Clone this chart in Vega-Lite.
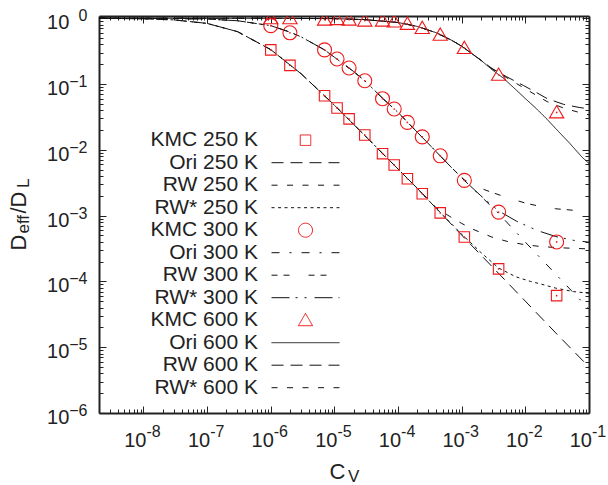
{
"$schema":"https://vega.github.io/schema/vega-lite/v6.json",
"width":490,"height":397,
"autosize":{"type":"none"},
"padding":{"left":99,"top":16,"right":19,"bottom":72},
"background":"white",
"config":{"view":{"stroke":null},"font":"Liberation Sans",
"axis":{"labelFont":"Liberation Sans","labelFontSize":20,"labelColor":"#222","titleFont":"Liberation Sans","titleFontSize":22,"titleFontWeight":"normal","titleColor":"#222","domainColor":"#222","domainWidth":2,"tickColor":"#222","tickWidth":1,"grid":false,"labelOverlap":false,"labelFlush":false,"titleAlign":"left","titleBaseline":"alphabetic"}},
"datasets":{
"kmc":[
{"series":"KMC 250 K","x":1e-6,"y":0.33},{"series":"KMC 250 K","x":2e-6,"y":0.192},{"series":"KMC 250 K","x":7e-6,"y":0.0664},{"series":"KMC 250 K","x":1.1e-5,"y":0.0432},{"series":"KMC 250 K","x":1.7e-5,"y":0.0295},{"series":"KMC 250 K","x":3e-5,"y":0.0168},{"series":"KMC 250 K","x":5.7e-5,"y":0.00873},{"series":"KMC 250 K","x":8.7e-5,"y":0.00588},{"series":"KMC 250 K","x":1.4e-4,"y":0.00363},{"series":"KMC 250 K","x":2.4e-4,"y":0.00215},{"series":"KMC 250 K","x":4.6e-4,"y":0.0011},{"series":"KMC 250 K","x":1.1e-3,"y":0.000473},{"series":"KMC 250 K","x":3.8e-3,"y":0.000155},{"series":"KMC 250 K","x":3.1e-2,"y":6.07e-5},
{"series":"KMC 300 K","x":1e-6,"y":0.77},{"series":"KMC 300 K","x":2e-6,"y":0.6},{"series":"KMC 300 K","x":7e-6,"y":0.33},{"series":"KMC 300 K","x":1.1e-5,"y":0.24},{"series":"KMC 300 K","x":1.7e-5,"y":0.175},{"series":"KMC 300 K","x":3e-5,"y":0.112},{"series":"KMC 300 K","x":5.7e-5,"y":0.0598},{"series":"KMC 300 K","x":8.7e-5,"y":0.0417},{"series":"KMC 300 K","x":1.4e-4,"y":0.0261},{"series":"KMC 300 K","x":2.4e-4,"y":0.0157},{"series":"KMC 300 K","x":4.6e-4,"y":0.0081},{"series":"KMC 300 K","x":1.1e-3,"y":0.00343},{"series":"KMC 300 K","x":3.8e-3,"y":0.00113},{"series":"KMC 300 K","x":3.1e-2,"y":0.000398},
{"series":"KMC 600 K","x":1e-6,"y":1.0},{"series":"KMC 600 K","x":2e-6,"y":1.0},{"series":"KMC 600 K","x":7e-6,"y":0.95},{"series":"KMC 600 K","x":1.1e-5,"y":0.97},{"series":"KMC 600 K","x":1.7e-5,"y":0.95},{"series":"KMC 600 K","x":3e-5,"y":0.92},{"series":"KMC 600 K","x":5.7e-5,"y":0.92},{"series":"KMC 600 K","x":8.7e-5,"y":0.89},{"series":"KMC 600 K","x":1.4e-4,"y":0.82},{"series":"KMC 600 K","x":2.4e-4,"y":0.71},{"series":"KMC 600 K","x":4.6e-4,"y":0.56},{"series":"KMC 600 K","x":1.1e-3,"y":0.352},{"series":"KMC 600 K","x":3.8e-3,"y":0.138},{"series":"KMC 600 K","x":3.1e-2,"y":0.037}
],
"curves":[
{"series":"Ori 250 K","x":2e-9,"y":0.996},{"series":"Ori 250 K","x":1e-8,"y":0.98},{"series":"Ori 250 K","x":3e-8,"y":0.943},{"series":"Ori 250 K","x":1e-7,"y":0.833},{"series":"Ori 250 K","x":3e-7,"y":0.625},{"series":"Ori 250 K","x":1e-6,"y":0.333},{"series":"Ori 250 K","x":2e-6,"y":0.195},{"series":"Ori 250 K","x":3e-6,"y":0.143},{"series":"Ori 250 K","x":7e-6,"y":0.066},{"series":"Ori 250 K","x":1e-5,"y":0.0476},{"series":"Ori 250 K","x":3e-5,"y":0.0165},{"series":"Ori 250 K","x":1e-4,"y":0.0051},{"series":"Ori 250 K","x":2e-4,"y":0.0026},{"series":"Ori 250 K","x":4e-4,"y":0.00128},{"series":"Ori 250 K","x":1e-3,"y":0.000505},{"series":"Ori 250 K","x":3e-3,"y":0.000168},{"series":"Ori 250 K","x":1e-2,"y":5.0e-5},{"series":"Ori 250 K","x":3e-2,"y":1.65e-5},{"series":"Ori 250 K","x":1e-1,"y":5.0e-6},
{"series":"RW 250 K","x":2e-9,"y":0.996},{"series":"RW 250 K","x":1e-8,"y":0.98},{"series":"RW 250 K","x":3e-8,"y":0.943},{"series":"RW 250 K","x":1e-7,"y":0.833},{"series":"RW 250 K","x":3e-7,"y":0.625},{"series":"RW 250 K","x":1e-6,"y":0.333},{"series":"RW 250 K","x":2e-6,"y":0.195},{"series":"RW 250 K","x":3e-6,"y":0.143},{"series":"RW 250 K","x":7e-6,"y":0.066},{"series":"RW 250 K","x":1e-5,"y":0.0476},{"series":"RW 250 K","x":3e-5,"y":0.0165},{"series":"RW 250 K","x":1e-4,"y":0.0051},{"series":"RW 250 K","x":2e-4,"y":0.0026},{"series":"RW 250 K","x":4e-4,"y":0.00131},{"series":"RW 250 K","x":6.5e-4,"y":0.00097},{"series":"RW 250 K","x":1e-3,"y":0.00076},{"series":"RW 250 K","x":1.5e-3,"y":0.00062},{"series":"RW 250 K","x":3e-3,"y":0.00047},{"series":"RW 250 K","x":5.2e-3,"y":0.000405},{"series":"RW 250 K","x":1e-2,"y":0.00036},{"series":"RW 250 K","x":1.7e-2,"y":0.00034},{"series":"RW 250 K","x":3e-2,"y":0.000327},{"series":"RW 250 K","x":5.7e-2,"y":0.000318},{"series":"RW 250 K","x":1e-1,"y":0.000312},
{"series":"RW* 250 K","x":2e-9,"y":0.996},{"series":"RW* 250 K","x":1e-8,"y":0.98},{"series":"RW* 250 K","x":3e-8,"y":0.943},{"series":"RW* 250 K","x":1e-7,"y":0.833},{"series":"RW* 250 K","x":3e-7,"y":0.625},{"series":"RW* 250 K","x":1e-6,"y":0.333},{"series":"RW* 250 K","x":2e-6,"y":0.195},{"series":"RW* 250 K","x":3e-6,"y":0.143},{"series":"RW* 250 K","x":7e-6,"y":0.066},{"series":"RW* 250 K","x":1e-5,"y":0.0476},{"series":"RW* 250 K","x":3e-5,"y":0.0165},{"series":"RW* 250 K","x":1e-4,"y":0.0051},{"series":"RW* 250 K","x":2e-4,"y":0.0026},{"series":"RW* 250 K","x":4e-4,"y":0.00128},{"series":"RW* 250 K","x":1e-3,"y":0.00052},{"series":"RW* 250 K","x":1.5e-3,"y":0.00036},{"series":"RW* 250 K","x":2e-3,"y":0.000275},{"series":"RW* 250 K","x":3.8e-3,"y":0.00016},{"series":"RW* 250 K","x":7e-3,"y":0.000118},{"series":"RW* 250 K","x":1.2e-2,"y":0.0001},{"series":"RW* 250 K","x":1.7e-2,"y":9.2e-5},{"series":"RW* 250 K","x":3e-2,"y":7.9e-5},{"series":"RW* 250 K","x":5.7e-2,"y":7.0e-5},{"series":"RW* 250 K","x":1e-1,"y":6.6e-5},
{"series":"Ori 300 K","x":2e-9,"y":1.0},{"series":"Ori 300 K","x":1e-8,"y":0.997},{"series":"Ori 300 K","x":3e-8,"y":0.99},{"series":"Ori 300 K","x":1e-7,"y":0.97},{"series":"Ori 300 K","x":3e-7,"y":0.915},{"series":"Ori 300 K","x":1e-6,"y":0.77},{"series":"Ori 300 K","x":2e-6,"y":0.615},{"series":"Ori 300 K","x":3e-6,"y":0.52},{"series":"Ori 300 K","x":7e-6,"y":0.33},{"series":"Ori 300 K","x":1e-5,"y":0.255},{"series":"Ori 300 K","x":2e-5,"y":0.155},{"series":"Ori 300 K","x":3e-5,"y":0.112},{"series":"Ori 300 K","x":6e-5,"y":0.058},{"series":"Ori 300 K","x":1e-4,"y":0.037},{"series":"Ori 300 K","x":2e-4,"y":0.0185},{"series":"Ori 300 K","x":4e-4,"y":0.0093},{"series":"Ori 300 K","x":7e-4,"y":0.0053},{"series":"Ori 300 K","x":1.1e-3,"y":0.00343},{"series":"Ori 300 K","x":2.2e-3,"y":0.0018},{"series":"Ori 300 K","x":3.8e-3,"y":0.00108},{"series":"Ori 300 K","x":6e-3,"y":0.00067},{"series":"Ori 300 K","x":1e-2,"y":0.000395},{"series":"Ori 300 K","x":2e-2,"y":0.000195},{"series":"Ori 300 K","x":4e-2,"y":9.6e-5},{"series":"Ori 300 K","x":1e-1,"y":3.8e-5},
{"series":"RW 300 K","x":2e-9,"y":1.0},{"series":"RW 300 K","x":1e-8,"y":0.997},{"series":"RW 300 K","x":3e-8,"y":0.99},{"series":"RW 300 K","x":1e-7,"y":0.97},{"series":"RW 300 K","x":3e-7,"y":0.915},{"series":"RW 300 K","x":1e-6,"y":0.77},{"series":"RW 300 K","x":2e-6,"y":0.615},{"series":"RW 300 K","x":3e-6,"y":0.52},{"series":"RW 300 K","x":7e-6,"y":0.33},{"series":"RW 300 K","x":1e-5,"y":0.255},{"series":"RW 300 K","x":2e-5,"y":0.155},{"series":"RW 300 K","x":3e-5,"y":0.112},{"series":"RW 300 K","x":6e-5,"y":0.058},{"series":"RW 300 K","x":1e-4,"y":0.037},{"series":"RW 300 K","x":2e-4,"y":0.0185},{"series":"RW 300 K","x":4e-4,"y":0.0093},{"series":"RW 300 K","x":7e-4,"y":0.0053},{"series":"RW 300 K","x":1.1e-3,"y":0.0035},{"series":"RW 300 K","x":2e-3,"y":0.0026},{"series":"RW 300 K","x":2.8e-3,"y":0.0023},{"series":"RW 300 K","x":5e-3,"y":0.0019},{"series":"RW 300 K","x":1e-2,"y":0.00155},{"series":"RW 300 K","x":1.7e-2,"y":0.00138},{"series":"RW 300 K","x":3e-2,"y":0.00127},{"series":"RW 300 K","x":6e-2,"y":0.0012},{"series":"RW 300 K","x":1e-1,"y":0.00117},
{"series":"RW* 300 K","x":2e-9,"y":1.0},{"series":"RW* 300 K","x":1e-8,"y":0.997},{"series":"RW* 300 K","x":3e-8,"y":0.99},{"series":"RW* 300 K","x":1e-7,"y":0.97},{"series":"RW* 300 K","x":3e-7,"y":0.915},{"series":"RW* 300 K","x":1e-6,"y":0.77},{"series":"RW* 300 K","x":2e-6,"y":0.615},{"series":"RW* 300 K","x":3e-6,"y":0.52},{"series":"RW* 300 K","x":7e-6,"y":0.33},{"series":"RW* 300 K","x":1e-5,"y":0.255},{"series":"RW* 300 K","x":2e-5,"y":0.155},{"series":"RW* 300 K","x":3e-5,"y":0.112},{"series":"RW* 300 K","x":6e-5,"y":0.058},{"series":"RW* 300 K","x":1e-4,"y":0.037},{"series":"RW* 300 K","x":2e-4,"y":0.0185},{"series":"RW* 300 K","x":4e-4,"y":0.0093},{"series":"RW* 300 K","x":7e-4,"y":0.0053},{"series":"RW* 300 K","x":1.1e-3,"y":0.00343},{"series":"RW* 300 K","x":2e-3,"y":0.002},{"series":"RW* 300 K","x":3.8e-3,"y":0.00118},{"series":"RW* 300 K","x":7.3e-3,"y":0.00082},{"series":"RW* 300 K","x":1.2e-2,"y":0.00066},{"series":"RW* 300 K","x":1.7e-2,"y":0.000575},{"series":"RW* 300 K","x":3e-2,"y":0.00048},{"series":"RW* 300 K","x":5.8e-2,"y":0.00042},{"series":"RW* 300 K","x":1e-1,"y":0.000395},
{"series":"Ori 600 K","x":2e-9,"y":1.0},{"series":"Ori 600 K","x":1e-6,"y":0.999},{"series":"Ori 600 K","x":1e-5,"y":0.985},{"series":"Ori 600 K","x":3e-5,"y":0.952},{"series":"Ori 600 K","x":1e-4,"y":0.86},{"series":"Ori 600 K","x":2e-4,"y":0.75},{"series":"Ori 600 K","x":4e-4,"y":0.6},{"series":"Ori 600 K","x":7e-4,"y":0.46},{"series":"Ori 600 K","x":1e-3,"y":0.375},{"series":"Ori 600 K","x":2e-3,"y":0.23},{"series":"Ori 600 K","x":3e-3,"y":0.165},{"series":"Ori 600 K","x":4.5e-3,"y":0.123},{"series":"Ori 600 K","x":7e-3,"y":0.083},{"series":"Ori 600 K","x":1e-2,"y":0.06},{"series":"Ori 600 K","x":1.5e-2,"y":0.042},{"series":"Ori 600 K","x":2.2e-2,"y":0.029},{"series":"Ori 600 K","x":3e-2,"y":0.021},{"series":"Ori 600 K","x":5e-2,"y":0.0125},{"series":"Ori 600 K","x":7.8e-2,"y":0.0077},{"series":"Ori 600 K","x":1e-1,"y":0.0062},
{"series":"RW 600 K","x":2e-9,"y":1.0},{"series":"RW 600 K","x":1e-6,"y":0.999},{"series":"RW 600 K","x":1e-5,"y":0.985},{"series":"RW 600 K","x":3e-5,"y":0.952},{"series":"RW 600 K","x":1e-4,"y":0.86},{"series":"RW 600 K","x":2e-4,"y":0.75},{"series":"RW 600 K","x":4e-4,"y":0.6},{"series":"RW 600 K","x":7e-4,"y":0.46},{"series":"RW 600 K","x":1e-3,"y":0.375},{"series":"RW 600 K","x":2e-3,"y":0.23},{"series":"RW 600 K","x":3e-3,"y":0.172},{"series":"RW 600 K","x":5e-3,"y":0.13},{"series":"RW 600 K","x":9.3e-3,"y":0.095},{"series":"RW 600 K","x":1.5e-2,"y":0.074},{"series":"RW 600 K","x":2.2e-2,"y":0.06},{"series":"RW 600 K","x":4e-2,"y":0.049},{"series":"RW 600 K","x":7e-2,"y":0.044},{"series":"RW 600 K","x":1e-1,"y":0.042},
{"series":"RW* 600 K","x":2e-9,"y":1.0},{"series":"RW* 600 K","x":1e-6,"y":0.999},{"series":"RW* 600 K","x":1e-5,"y":0.985},{"series":"RW* 600 K","x":3e-5,"y":0.952},{"series":"RW* 600 K","x":1e-4,"y":0.86},{"series":"RW* 600 K","x":2e-4,"y":0.75},{"series":"RW* 600 K","x":4e-4,"y":0.6},{"series":"RW* 600 K","x":7e-4,"y":0.46},{"series":"RW* 600 K","x":1e-3,"y":0.375},{"series":"RW* 600 K","x":2e-3,"y":0.23},{"series":"RW* 600 K","x":3e-3,"y":0.17},{"series":"RW* 600 K","x":5e-3,"y":0.126},{"series":"RW* 600 K","x":9.3e-3,"y":0.088},{"series":"RW* 600 K","x":1.5e-2,"y":0.067},{"series":"RW* 600 K","x":2.2e-2,"y":0.054},{"series":"RW* 600 K","x":4e-2,"y":0.043},{"series":"RW* 600 K","x":7e-2,"y":0.037},{"series":"RW* 600 K","x":1e-1,"y":0.034}
]},
"layer":[
{"data":{"name":"curves"},
"mark":{"type":"line","strokeWidth":1,"clip":true},
"encoding":{
"x":{"field":"x","type":"quantitative","scale":{"type":"log","domain":[2e-9,0.1],"nice":false},
"axis":{"orient":"bottom","values":[2e-9,3e-9,4e-9,5e-9,6e-9,7e-9,8e-9,9e-9,1e-8,2e-8,3e-8,4e-8,5e-8,6e-8,7e-8,8e-8,9e-8,1e-7,2e-7,3e-7,4e-7,5e-7,6e-7,7e-7,8e-7,9e-7,1e-6,2e-6,3e-6,4e-6,5e-6,6e-6,7e-6,8e-6,9e-6,1e-5,2e-5,3e-5,4e-5,5e-5,6e-5,7e-5,8e-5,9e-5,1e-4,2e-4,3e-4,4e-4,5e-4,6e-4,7e-4,8e-4,9e-4,1e-3,2e-3,3e-3,4e-3,5e-3,6e-3,7e-3,8e-3,9e-3,1e-2,2e-2,3e-2,4e-2,5e-2,6e-2,7e-2,8e-2,9e-2,0.1],
"labelExpr":"abs(log(datum.value)/LN10-round(log(datum.value)/LN10))<0.001 ? '10' : ''",
"labelAlign":"right","labelOffset":2.5,
"tickSize":{"condition":{"test":"abs(log(datum.value)/LN10-round(log(datum.value)/LN10))<0.001","value":-7},"value":-4},
"labelPadding":24,"title":"C","titleX":230,"titleY":65,"titleAngle":0}},
"y":{"field":"y","type":"quantitative","scale":{"type":"log","domain":[1e-6,1.08],"nice":false},
"axis":{"orient":"left","values":[1e-6,2e-6,3e-6,4e-6,5e-6,6e-6,7e-6,8e-6,9e-6,1e-5,2e-5,3e-5,4e-5,5e-5,6e-5,7e-5,8e-5,9e-5,1e-4,2e-4,3e-4,4e-4,5e-4,6e-4,7e-4,8e-4,9e-4,1e-3,2e-3,3e-3,4e-3,5e-3,6e-3,7e-3,8e-3,9e-3,1e-2,2e-2,3e-2,4e-2,5e-2,6e-2,7e-2,8e-2,9e-2,0.1,0.2,0.3,0.4,0.5,0.6,0.7,0.8,0.9,1],
"labelExpr":"abs(log(datum.value)/LN10-round(log(datum.value)/LN10))<0.001 ? (abs(datum.value-1)<0.001 ? '10\u2002' : '10') : ''",
"labelOffset":4.5,
"tickSize":{"condition":{"test":"abs(log(datum.value)/LN10-round(log(datum.value)/LN10))<0.001","value":-7},"value":-4},
"labelPadding":37.2,"title":"D","titleX":-74,"titleY":234,"titleAngle":-90}},
"color":{"field":"series","type":"nominal","scale":{"domain":["KMC 250 K","Ori 250 K","RW 250 K","RW* 250 K","KMC 300 K","Ori 300 K","RW 300 K","RW* 300 K","KMC 600 K","Ori 600 K","RW 600 K","RW* 600 K"],"range":["#f01818","#111","#111","#111","#f01818","#111","#111","#111","#f01818","#111","#111","#111"]},
"legend":{"title":null,"orient":"none","legendX":196,"legendY":113.7,"labelAlign":"right","labelOffset":-58,"labelFontSize":21,"labelFont":"Liberation Sans","labelColor":"#222","symbolSize":110,"symbolStrokeWidth":1,"rowPadding":0.5,"padding":0}},
"strokeDash":{"field":"series","type":"nominal","scale":{"domain":["KMC 250 K","Ori 250 K","RW 250 K","RW* 250 K","KMC 300 K","Ori 300 K","RW 300 K","RW* 300 K","KMC 600 K","Ori 600 K","RW 600 K","RW* 600 K"],"range":[[1,0],[12,7],[6,9.5],[3,3.5],[1,0],[8,10,2,10],[6,6,6,19],[18,6,2,7,2,8],[1,0],[1,0],[12,7],[6,9.5]]},
"legend":{"title":null,"orient":"none","legendX":196,"legendY":113.7,"labelAlign":"right","labelOffset":-58,"labelFontSize":21,"labelFont":"Liberation Sans","labelColor":"#222","symbolSize":110,"symbolStrokeWidth":1,"rowPadding":0.5,"padding":0}}
}},
{"data":{"name":"kmc"},
"mark":{"type":"point","filled":false,"opacity":1,"strokeWidth":1.1,"size":110,"clip":true},
"encoding":{
"x":{"field":"x","type":"quantitative","axis":null},
"y":{"field":"y","type":"quantitative","axis":null},
"color":{"field":"series","type":"nominal","legend":{"title":null,"orient":"none","legendX":196,"legendY":113.7,"labelAlign":"right","labelOffset":-58,"labelFontSize":21,"labelFont":"Liberation Sans","labelColor":"#222","symbolSize":110,"symbolStrokeWidth":1,"rowPadding":0.5,"padding":0}},
"shape":{"field":"series","type":"nominal","scale":{"domain":["KMC 250 K","Ori 250 K","RW 250 K","RW* 250 K","KMC 300 K","Ori 300 K","RW 300 K","RW* 300 K","KMC 600 K","Ori 600 K","RW 600 K","RW* 600 K"],"range":["square","M-6.48,0L6.48,0","M-6.48,0L6.48,0","M-6.48,0L6.48,0","M-1.335,0A1.335,1.335,0,1,0,1.335,0A1.335,1.335,0,1,0,-1.335,0Z","M-6.48,0L6.48,0","M-6.48,0L6.48,0","M-6.48,0L6.48,0","M0,-1.3L1.36,1.05L-1.36,1.05Z","M-6.48,0L6.48,0","M-6.48,0L6.48,0","M-6.48,0L6.48,0"]},
"legend":{"title":null,"orient":"none","legendX":196,"legendY":113.7,"labelAlign":"right","labelOffset":-58,"labelFontSize":21,"labelFont":"Liberation Sans","labelColor":"#222","symbolSize":110,"symbolStrokeWidth":1,"rowPadding":0.5,"padding":0}}
}},
{"data":{"name":"kmc"},
"mark":{"type":"point","filled":true,"opacity":1,"size":3,"color":"#f01818","clip":true},
"encoding":{
"x":{"field":"x","type":"quantitative","axis":null},
"y":{"field":"y","type":"quantitative","axis":null}
}},
{"data":{"name":"curves"},
"mark":{"type":"point","opacity":0},
"encoding":{
"x":{"field":"x","type":"quantitative","axis":{"orient":"top","values":[2e-9,3e-9,4e-9,5e-9,6e-9,7e-9,8e-9,9e-9,1e-8,2e-8,3e-8,4e-8,5e-8,6e-8,7e-8,8e-8,9e-8,1e-7,2e-7,3e-7,4e-7,5e-7,6e-7,7e-7,8e-7,9e-7,1e-6,2e-6,3e-6,4e-6,5e-6,6e-6,7e-6,8e-6,9e-6,1e-5,2e-5,3e-5,4e-5,5e-5,6e-5,7e-5,8e-5,9e-5,1e-4,2e-4,3e-4,4e-4,5e-4,6e-4,7e-4,8e-4,9e-4,1e-3,2e-3,3e-3,4e-3,5e-3,6e-3,7e-3,8e-3,9e-3,1e-2,2e-2,3e-2,4e-2,5e-2,6e-2,7e-2,8e-2,9e-2,0.1],"labels":false,
"title":"/D","titleX":-74,"titleY":197,"titleAngle":-90,
"tickSize":{"condition":{"test":"abs(log(datum.value)/LN10-round(log(datum.value)/LN10))<0.001","value":-7},"value":-4}}},
"y":{"field":"y","type":"quantitative","axis":{"orient":"right","values":[1e-6,2e-6,3e-6,4e-6,5e-6,6e-6,7e-6,8e-6,9e-6,1e-5,2e-5,3e-5,4e-5,5e-5,6e-5,7e-5,8e-5,9e-5,1e-4,2e-4,3e-4,4e-4,5e-4,6e-4,7e-4,8e-4,9e-4,1e-3,2e-3,3e-3,4e-3,5e-3,6e-3,7e-3,8e-3,9e-3,1e-2,2e-2,3e-2,4e-2,5e-2,6e-2,7e-2,8e-2,9e-2,0.1,0.2,0.3,0.4,0.5,0.6,0.7,0.8,0.9,1],"labels":false,
"title":"L","titleFontSize":17,"titleX":-561,"titleY":171.5,"titleAngle":-90,
"tickSize":{"condition":{"test":"abs(log(datum.value)/LN10-round(log(datum.value)/LN10))<0.001","value":-7},"value":-4}}}
}},
{"data":{"name":"curves"},
"mark":{"type":"point","opacity":0},
"encoding":{
"x":{"field":"x","type":"quantitative","axis":{"orient":"bottom","domain":false,"tickOpacity":0,"values":[1e-8,1e-7,1e-6,1e-5,1e-4,1e-3,1e-2,0.1],
"labelExpr":"'-' + abs(round(log(datum.value)/LN10))",
"labelAlign":"left","labelOffset":2.5,"labelFontSize":16,"tickSize":-7,"labelPadding":17.6,
"title":"V","titleFontSize":17,"titleX":248.5,"titleY":68.7,"titleAngle":0}},
"y":{"field":"y","type":"quantitative","axis":{"orient":"left","domain":false,"tickOpacity":0,"values":[1e-6,1e-5,1e-4,1e-3,1e-2,0.1,1],
"labelExpr":"(round(log(datum.value)/LN10)<0 ? '\u2212' : '') + abs(round(log(datum.value)/LN10))",
"labelOffset":-2.5,"labelFontSize":16,"tickSize":-7,"labelPadding":19,
"title":"eff","titleFontSize":17,"titleX":-71,"titleY":217,"titleAngle":-90}}
}}
],
"resolve":{"axis":{"x":"independent","y":"independent"}}
}
